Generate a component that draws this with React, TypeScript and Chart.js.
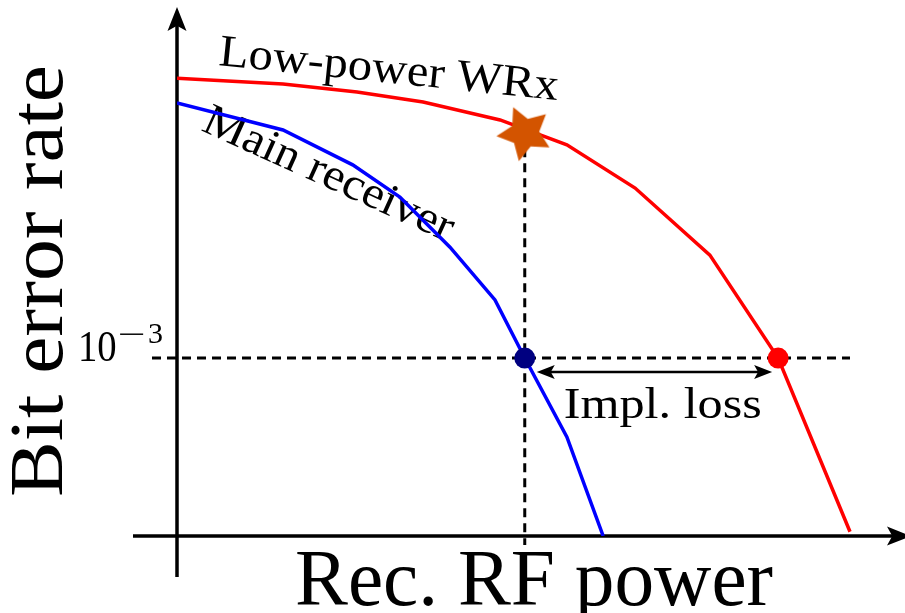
import React, { useEffect, useRef } from "react";
import { Chart, registerables } from "chart.js";

Chart.register(...registerables);

// ---- data (arbitrary schematic units: 0..100 on both axes) ----
const wrxPower = [0, 14.6, 24.8, 33.9, 44.5, 53.7, 63.1, 73.4, 82.8, 92.7];
const wrxBer = [86.7, 85.6, 84.1, 82.2, 78.8, 74.1, 65.9, 53.2, 33.7, 0.8];
const mainPower = [0, 14.6, 24.2, 30.7, 37.6, 43.8, 47.9, 53.7, 58.7];
const mainBer = [82.0, 76.9, 70.3, 64.2, 54.7, 44.7, 33.7, 18.75, 0];
const targetBer = 33.7;
const targetBerBase = "10";
const targetBerMinus = "\u2212";
const targetBerExp = "3";
const mainSensitivity = 47.9;
const wrxSensitivity = 82.8;
const wakeUpPower = [47.9];
const wakeUpBer = [76.3];
const seriesNames = ["Low-power WRx", "Main receiver"];
const xTitle = "Rec. RF power";
const yTitle = "Bit error rate";
const lossLabel = "Impl. loss";

const SERIF = '"Liberation Serif", "DejaVu Serif", serif';

function makeStar(outer: number, inner: number, rotDeg: number, color: string) {
  const c = document.createElement("canvas");
  const s = Math.ceil(outer * 2 + 4);
  c.width = s;
  c.height = s;
  const g = c.getContext("2d")!;
  g.translate(s / 2, s / 2);
  g.rotate((rotDeg * Math.PI) / 180);
  g.beginPath();
  for (let i = 0; i < 10; i++) {
    const r = i % 2 === 0 ? outer : inner;
    const a = -Math.PI / 2 + (i * Math.PI) / 5;
    const px = r * Math.cos(a);
    const py = r * Math.sin(a);
    if (i === 0) g.moveTo(px, py);
    else g.lineTo(px, py);
  }
  g.closePath();
  g.fillStyle = color;
  g.fill();
  return c;
}

function arrowHead(ctx: CanvasRenderingContext2D, tx: number, ty: number, angle: number, len: number, half: number) {
  ctx.save();
  ctx.translate(tx, ty);
  ctx.rotate(angle);
  ctx.beginPath();
  ctx.moveTo(0, 0);
  ctx.lineTo(-len, -half);
  ctx.lineTo(-len * 0.78, 0);
  ctx.lineTo(-len, half);
  ctx.closePath();
  ctx.fill();
  ctx.restore();
}

// Draw text starting at (x, y) on its baseline, rotated, stretched to a target width
function fitText(
  ctx: CanvasRenderingContext2D,
  text: string,
  x: number,
  y: number,
  size: number,
  width: number,
  angleDeg: number
) {
  ctx.save();
  ctx.translate(x, y);
  ctx.rotate((angleDeg * Math.PI) / 180);
  ctx.font = `${size}px ${SERIF}`;
  ctx.textAlign = "left";
  ctx.textBaseline = "alphabetic";
  (ctx as any).letterSpacing = "0px";
  const w = ctx.measureText(text).width;
  let sx = width / w;
  const clamped = Math.max(0.88, Math.min(1.14, sx));
  const n = Array.from(text).length;
  const rest = width / clamped - w;
  const ls = n > 1 ? rest / (n - 1) : 0;
  (ctx as any).letterSpacing = `${ls}px`;
  ctx.scale(clamped, 1);
  ctx.fillStyle = "#000";
  ctx.fillText(text, 0, 0);
  ctx.restore();
}

function scaledText(ctx: CanvasRenderingContext2D, text: string, x: number, y: number, size: number, sx: number) {
  ctx.save();
  ctx.translate(x, y);
  ctx.scale(sx, 1);
  ctx.font = `${size}px ${SERIF}`;
  (ctx as any).letterSpacing = "0px";
  ctx.textAlign = "left";
  ctx.textBaseline = "alphabetic";
  ctx.fillStyle = "#000";
  ctx.fillText(text, 0, 0);
  ctx.restore();
}

const decor = {
  id: "decor",
  beforeDatasetsDraw(chart: any) {
    const { ctx, chartArea, scales } = chart;
    const xs = scales.x;
    const ys = scales.y;
    const x0 = xs.getPixelForValue(0);
    const y0 = ys.getPixelForValue(0);
    const yt = ys.getPixelForValue(targetBer);
    const xm = xs.getPixelForValue(mainSensitivity);
    ctx.save();
    ctx.strokeStyle = "#000";
    ctx.fillStyle = "#000";
    ctx.lineCap = "butt";

    // dashed guides
    ctx.lineWidth = 3;
    ctx.setLineDash([9, 6]);
    ctx.beginPath();
    ctx.moveTo(x0 - 25, yt);
    ctx.lineTo(xs.getPixelForValue(wrxPower[wrxPower.length - 1]), yt);
    ctx.stroke();
    ctx.beginPath();
    ctx.moveTo(xm, ys.getPixelForValue(wakeUpBer[0]));
    ctx.lineTo(xm, y0 + 9);
    ctx.stroke();
    ctx.setLineDash([]);

    // axes
    ctx.lineWidth = 3.5;
    ctx.beginPath();
    ctx.moveTo(x0 - 44, y0);
    ctx.lineTo(chartArea.right - 8, y0);
    ctx.stroke();
    arrowHead(ctx, chartArea.right + 8, y0, 0, 24, 9.5);
    ctx.beginPath();
    ctx.moveTo(x0, y0 + 41);
    ctx.lineTo(x0, chartArea.top + 16);
    ctx.stroke();
    arrowHead(ctx, x0, chartArea.top - 1, -Math.PI / 2, 24, 9.5);

    // curve labels
    fitText(ctx, seriesNames[0], 218, 65, 45, 341, 5.9);
    fitText(ctx, seriesNames[1], 200, 130, 45, 271, 24.4);
    ctx.restore();
  },
  afterDatasetsDraw(chart: any) {
    const { ctx, scales } = chart;
    const xs = scales.x;
    const ys = scales.y;
    const yt = ys.getPixelForValue(targetBer);
    const xm = xs.getPixelForValue(mainSensitivity);
    const xw = xs.getPixelForValue(wrxSensitivity);
    ctx.save();
    ctx.strokeStyle = "#000";
    ctx.fillStyle = "#000";

    // implementation loss double arrow
    const ay = yt + 14;
    const ax1 = xm + 12;
    const ax2 = xw - 6;
    ctx.lineWidth = 2.6;
    ctx.beginPath();
    ctx.moveTo(ax1 + 10, ay);
    ctx.lineTo(ax2 - 10, ay);
    ctx.stroke();
    arrowHead(ctx, ax2, ay, 0, 18, 7);
    arrowHead(ctx, ax1, ay, Math.PI, 18, 7);
    fitText(ctx, lossLabel, xm + 39, yt + 60, 45, 198, 0);

    // tick label 10^-3
    scaledText(ctx, targetBerBase, 78, yt + 3, 44, 0.88);
    scaledText(ctx, targetBerMinus, 118, yt - 14, 30, 1.65);
    scaledText(ctx, targetBerExp, 148, yt - 15, 30, 1);

    // axis titles
    fitText(ctx, xTitle, 295, 605, 80, 478, 0);
    fitText(ctx, yTitle, 62, 497, 76, 432, -90);
    ctx.restore();
  },
};

export default function App() {
  const ref = useRef<HTMLCanvasElement>(null);
  useEffect(() => {
    const canvas = ref.current!;
    let chart: Chart | null = null;
    let cancelled = false;
    const build = () => {
      if (cancelled) return;
      const star = makeStar(28.5, 14.5, -24, "#D35400");
      chart = new Chart(canvas, {
        type: "scatter",
        data: {
          datasets: [
            {
              label: seriesNames[0],
              data: wrxPower.map((x, i) => ({ x, y: wrxBer[i] })),
              showLine: true,
              borderColor: "#FF0000",
              borderWidth: 3.5,
              pointRadius: 0,
              tension: 0,
              order: 4,
            } as any,
            {
              label: seriesNames[1],
              data: mainPower.map((x, i) => ({ x, y: mainBer[i] })),
              showLine: true,
              borderColor: "#0000FF",
              borderWidth: 3.5,
              pointRadius: 0,
              tension: 0,
              order: 3,
            } as any,
            {
              label: "wake-up",
              data: wakeUpPower.map((x, i) => ({ x, y: wakeUpBer[i] })),
              pointStyle: star,
              pointRadius: 28,
              order: 2,
            } as any,
            {
              label: "sensitivity",
              data: [
                { x: mainSensitivity, y: targetBer },
                { x: wrxSensitivity, y: targetBer },
              ],
              pointRadius: 10.5,
              pointBackgroundColor: ["#000080", "#FF0000"],
              pointBorderWidth: 0,
              borderWidth: 0,
              order: 1,
            } as any,
          ],
        },
        options: {
          responsive: false,
          animation: false,
          events: [],
          devicePixelRatio: 1,
          layout: { autoPadding: false, padding: { left: 177, top: 8, right: 2, bottom: 77 } },
          scales: {
            x: { type: "linear", min: 0, max: 100, display: false },
            y: { type: "linear", min: 0, max: 100, display: false },
          },
          plugins: {
            legend: { display: false },
            tooltip: { enabled: false },
            title: { display: false },
          },
        } as any,
        plugins: [decor],
      });
    };
    const fonts: any = (document as any).fonts;
    if (fonts && fonts.load) {
      Promise.all([fonts.load('45px "Liberation Serif"'), fonts.load('45px "DejaVu Serif"')])
        .catch(() => null)
        .then(() => build());
    } else {
      build();
    }
    return () => {
      cancelled = true;
      if (chart) chart.destroy();
    };
  }, []);
  return (
    <div style={{ position: "fixed", left: 0, top: 0, width: 905, height: 613, background: "#fff" }}>
      <span style={{ fontFamily: SERIF, position: "absolute", left: -9999, top: 0 }}>Aa</span>
      <canvas ref={ref} width={905} height={613} style={{ display: "block" }} />
    </div>
  );
}
